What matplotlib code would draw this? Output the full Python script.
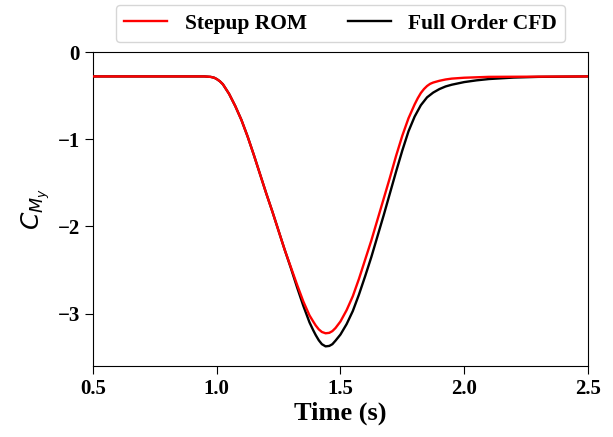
import matplotlib
matplotlib.use('Agg')
import matplotlib.pyplot as plt

# values
t_rom = [0.5, 0.95, 0.975, 0.99, 1.0, 1.0125, 1.025, 1.05, 1.075, 1.10, 1.125, 1.15, 1.175, 1.20,
         1.225, 1.25, 1.275, 1.30, 1.325, 1.35, 1.375, 1.39, 1.40, 1.4125, 1.425, 1.44, 1.455, 1.4675,
         1.48, 1.50, 1.525, 1.55, 1.575, 1.60, 1.625, 1.65, 1.675, 1.70, 1.725, 1.75, 1.775,
         1.80, 1.8125, 1.825, 1.8375, 1.85, 1.8625, 1.875, 1.90, 1.925, 1.95, 2.0, 2.1, 2.5]
cm_rom = [-0.28, -0.28, -0.285, -0.295, -0.31, -0.335, -0.37, -0.48, -0.62, -0.78, -0.97, -1.18, -1.40, -1.62,
          -1.83, -2.05, -2.27, -2.47, -2.67, -2.86, -3.02, -3.09, -3.135, -3.18, -3.21, -3.225, -3.22, -3.20,
          -3.165, -3.09, -2.96, -2.80, -2.60, -2.38, -2.16, -1.92, -1.68, -1.44, -1.19, -0.96, -0.76,
          -0.60, -0.53, -0.47, -0.425, -0.39, -0.365, -0.35, -0.33, -0.315, -0.305, -0.295, -0.285, -0.28]

t_cfd = [0.5, 0.95, 0.975, 0.99, 1.0, 1.0125, 1.025, 1.05, 1.075, 1.10, 1.125, 1.15, 1.175, 1.20,
         1.225, 1.25, 1.275, 1.30, 1.325, 1.35, 1.375, 1.39, 1.40, 1.4125, 1.425, 1.44, 1.455, 1.4675,
         1.48, 1.50, 1.525, 1.55, 1.575, 1.60, 1.625, 1.65, 1.675, 1.70, 1.725, 1.75, 1.775,
         1.80, 1.825, 1.85, 1.875, 1.90, 1.925, 1.95, 2.0, 2.05, 2.1, 2.2, 2.3, 2.5]
cm_cfd = [-0.28, -0.28, -0.285, -0.295, -0.31, -0.335, -0.37, -0.48, -0.62, -0.78, -0.97, -1.18, -1.40, -1.62,
          -1.83, -2.05, -2.27, -2.48, -2.70, -2.91, -3.10, -3.19, -3.245, -3.305, -3.35, -3.375, -3.37, -3.35,
          -3.31, -3.24, -3.12, -2.97, -2.78, -2.57, -2.35, -2.11, -1.87, -1.62, -1.37, -1.13, -0.91,
          -0.74, -0.61, -0.52, -0.465, -0.425, -0.395, -0.375, -0.345, -0.325, -0.31, -0.293, -0.285, -0.28]

plt.rcParams['font.family'] = 'Liberation Serif'
plt.rcParams['mathtext.fontset'] = 'dejavusans'

fig = plt.figure(figsize=(6.13, 4.37), dpi=100)
ax = fig.add_axes([0.1517, 0.1625, 0.8073, 0.7185])

ax.plot(t_rom, cm_rom, color='red', lw=1.7, label='Stepup ROM', zorder=3)
ax.plot(t_cfd, cm_cfd, color='black', lw=1.7, label='Full Order CFD', zorder=2)

ax.set_xlim(0.5, 2.5)
ax.set_ylim(-3.6, 0)
ax.set_xticks([0.5, 1.0, 1.5, 2.0, 2.5])
ax.set_yticks([0, -1, -2, -3])
ax.tick_params(labelsize=15, length=6)
for lab in ax.get_xticklabels() + ax.get_yticklabels():
    lab.set_fontweight('bold')

ax.set_xlabel('Time (s)', fontsize=19, fontweight='bold', labelpad=2)
ax.set_ylabel('$C_{M_y}$', fontsize=18, fontfamily='DejaVu Sans', fontweight='normal', labelpad=4)

ax.legend(loc='lower center', bbox_to_anchor=(0.5, 1.0), ncol=2,
          prop={'family': 'Liberation Serif', 'weight': 'bold', 'size': 15.5},
          borderaxespad=0.45, columnspacing=1.9)

fig.savefig('out.png', dpi=100)
